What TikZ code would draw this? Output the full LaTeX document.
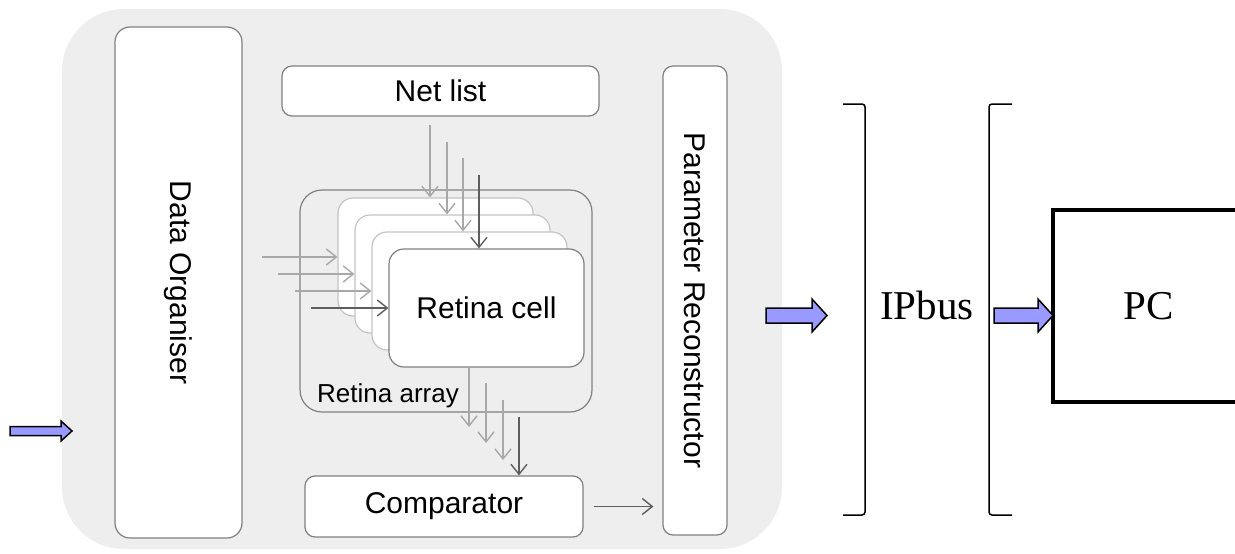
\documentclass[tikz,border=0pt]{standalone}
\usepackage{fontspec}
\setmainfont{Liberation Sans}
\newfontfamily\serifA{Liberation Serif}
\usetikzlibrary{arrows.meta}
\definecolor{bggray}{HTML}{EEEEEE}
\definecolor{boxgray}{HTML}{808080}
\definecolor{layergray}{HTML}{C4C4C4}
\definecolor{lightarr}{HTML}{A8A8A8}
\definecolor{darkarr}{HTML}{5E5E5E}
\definecolor{blockblue}{HTML}{9999FF}
\newcommand\blockarrow[6]{%
  \draw[barrow] (#1,{#4-#5}) -- (#2,{#4-#5}) -- (#2,{#4-#6}) -- (#3,#4) -- (#2,{#4+#6}) -- (#2,{#4+#5}) -- (#1,{#4+#5}) -- cycle;}
\begin{document}
\begin{tikzpicture}[x=1pt,y=-1pt,
  lbl/.style={font=\fontsize{30}{36}\selectfont},
  boxst/.style={draw=boxgray, fill=white, rounded corners=10, line width=1.2pt, inner sep=0pt, lbl},
  layer/.style={draw=layergray, fill=white, rounded corners=15, line width=1.2pt, minimum width=195pt, minimum height=118pt, inner sep=0pt},
  tipst/.style={-{Straight Barb[length=10pt,width=16pt,line width=1.4pt]}},
  larr/.style={draw=lightarr, line width=1.4pt, tipst},
  darr/.style={draw=darkarr, line width=1.5pt, tipst},
  barrow/.style={draw=black, fill=blockblue, line width=1.5pt, line join=miter},
  brk/.style={draw=black, line width=1.5pt, rounded corners=3pt},
  serifbig/.style={font=\serifA\fontsize{41}{49}\selectfont}]
\useasboundingbox (0,0) rectangle (1235,554);
\clip (0,0) rectangle (1235,554);
% background
\node[fill=bggray, rounded corners=62, minimum width=720pt, minimum height=540pt, inner sep=0pt] (bg) at (422,279) {};
% main blocks
\node[boxst, rounded corners=15, rotate=-90, minimum width=511pt, minimum height=127pt] (dorg) at (178.5,282.5) {Data Organiser};
\node[boxst, minimum width=317pt, minimum height=50pt] (net) at (440.5,91) {Net list};
\node[boxst, rotate=-90, minimum width=469pt, minimum height=64pt] (param) at (695,300.5) {Parameter Reconstructor};
\node[boxst, minimum width=278pt, minimum height=61pt] (comp) at (444,506.5) {Comparator};
% retina array
\node[draw=boxgray, line width=1.2pt, rounded corners=22, minimum width=292pt, minimum height=222pt, inner sep=0pt] (array) at (446,301) {};
\node[anchor=west, font=\fontsize{26}{31}\selectfont, inner sep=0pt] (arraylbl) at (317,396) {Retina array};
% layers
\node[layer] (L1) at (435.5,257) {};
\node[layer] (L2) at (452.5,274) {};
\node[layer] (L3) at (469.5,291) {};
\node[layer, draw=boxgray, lbl] (L4) at (486.5,308) {Retina cell};
% vertical inputs
\coordinate (v1) at (430,125);
\coordinate (v2) at (447,142);
\coordinate (v3) at (463,158);
\coordinate (v4) at (479,175);
\draw[larr] (v1) -- (v1 |- L1.north);
\draw[larr] (v2) -- (v2 |- L2.north);
\draw[larr] (v3) -- (v3 |- L3.north);
\draw[darr] (v4) -- (v4 |- L4.north);
% horizontal inputs
\coordinate (h1) at (262,257);
\coordinate (h2) at (278,274);
\coordinate (h3) at (295,291);
\coordinate (h4) at (311,308);
\draw[larr] (h1) -- (h1 -| L1.west);
\draw[larr] (h2) -- (h2 -| L2.west);
\draw[larr] (h3) -- (h3 -| L3.west);
\draw[darr] (h4) -- (h4 -| L4.west);
% outputs
\coordinate (o1) at (469,367);
\coordinate (o2) at (486,383);
\coordinate (o3) at (503,400);
\coordinate (o4) at (519,417);
\coordinate (e1) at (469,427);
\coordinate (e2) at (486,443);
\coordinate (e3) at (503,460);
\draw[larr] (o1) -- (e1);
\draw[larr] (o2) -- (e2);
\draw[larr] (o3) -- (e3);
\draw[darr] (o4) -- (o4 |- comp.north);
% comparator to parameter reconstructor
\draw[darr, shorten <=10pt, shorten >=9pt] (comp.east) -- (comp.east -| param.south);
% brackets
\coordinate (bA1) at (843,104);
\coordinate (bA2) at (843,515);
\coordinate (bB1) at (1012,104);
\coordinate (bB2) at (1012,515);
\draw[brk] (bA1) -- (865,104) -- (865,515) -- (bA2);
\draw[brk] (bB1) -- (989,104) -- (989,515) -- (bB2);
\node[serifbig, anchor=base, inner sep=0pt] (ipbus) at (927,319) {IPbus};
% PC
\node[draw=black, line width=4pt, minimum width=192pt, minimum height=192pt, inner sep=0pt, serifbig] (pc) at (1149,306) {PC};
% block arrows
\blockarrow{10}{61}{72}{431}{4.5}{10}
\blockarrow{766}{812}{827}{315.5}{7.5}{16.5}
\blockarrow{994}{1038}{1053}{315.5}{7.5}{16.5}
\end{tikzpicture}
\end{document}
